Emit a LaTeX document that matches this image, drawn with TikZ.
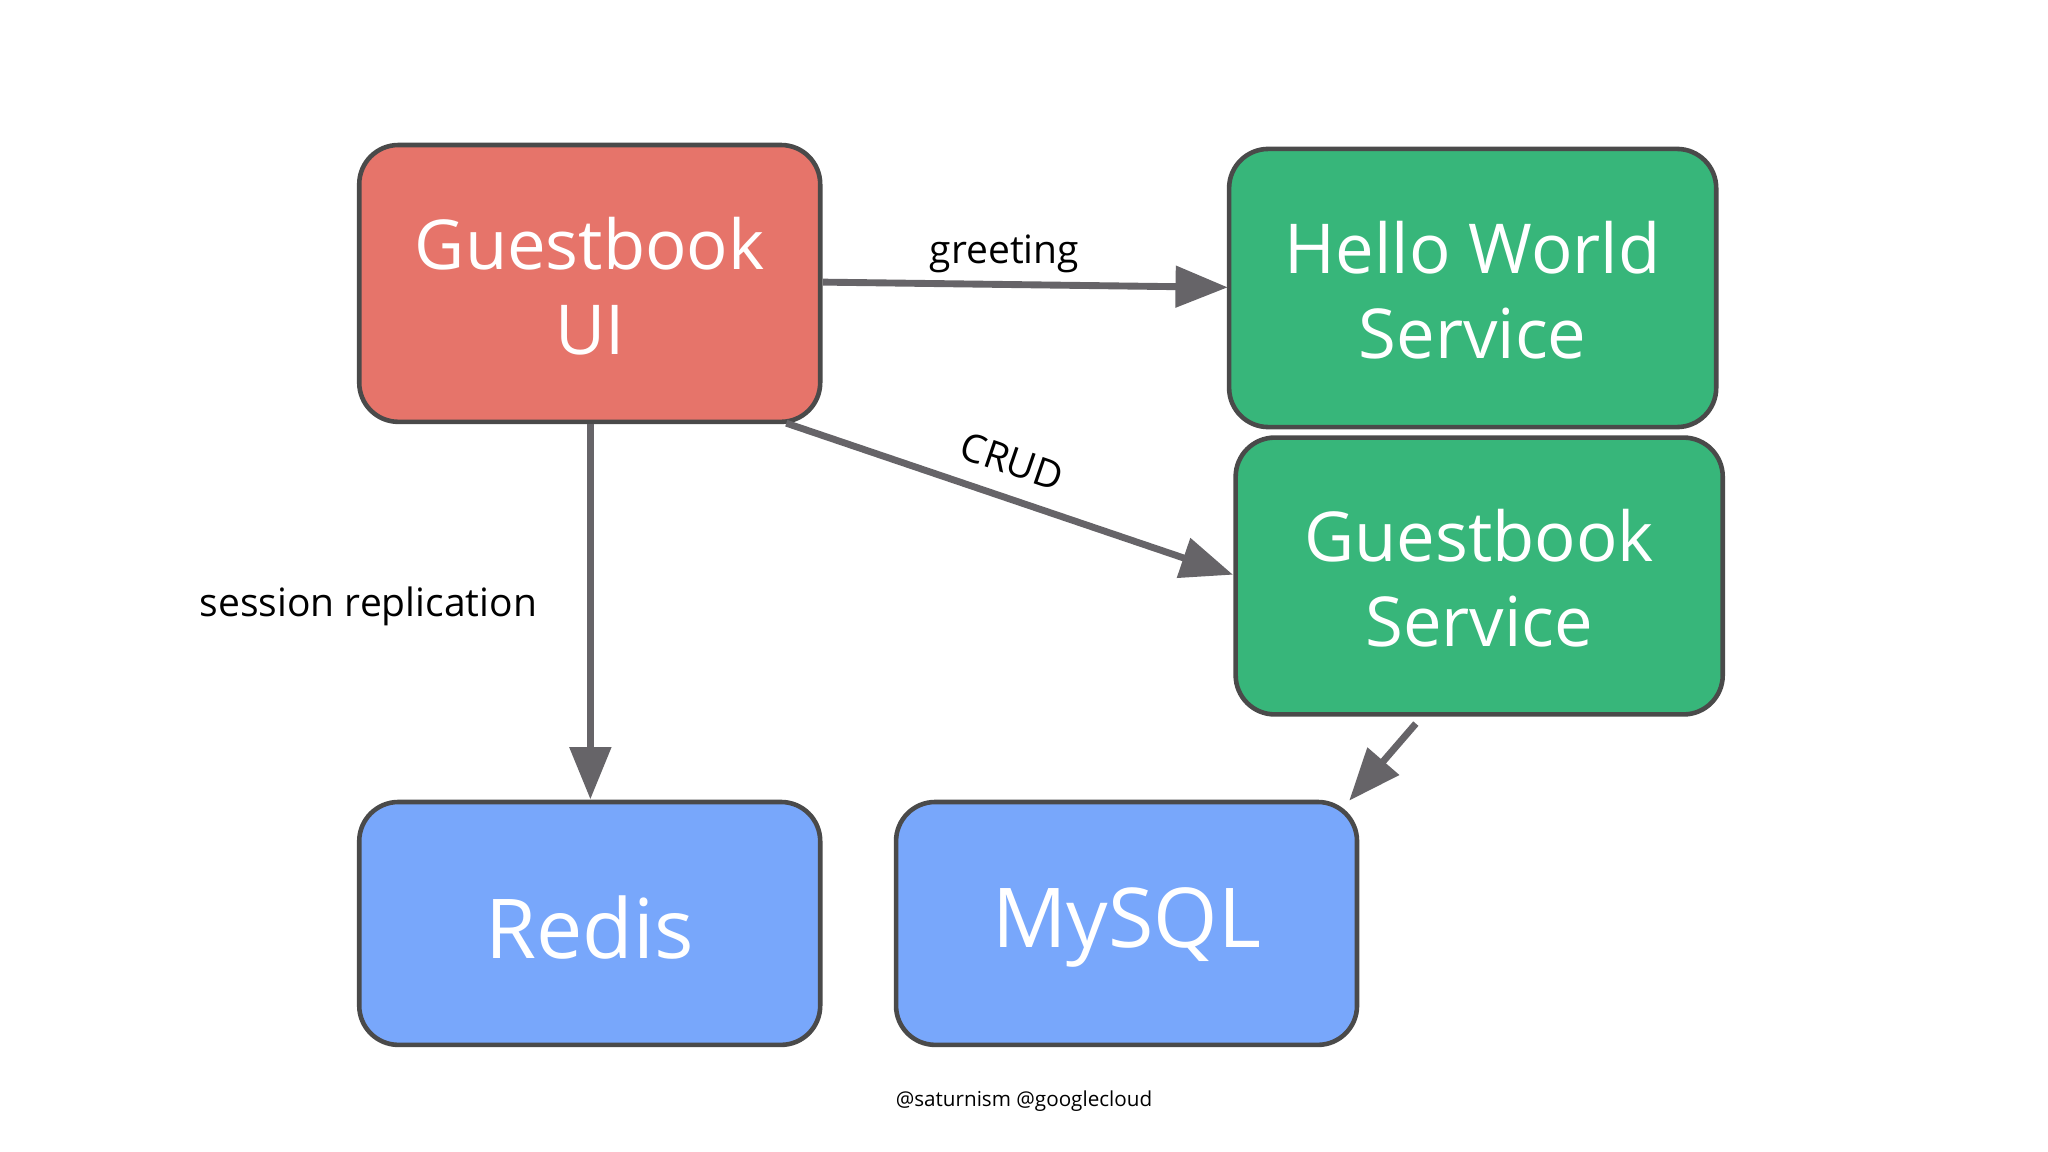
\documentclass[tikz,border=0pt]{standalone}
\usepackage{fontspec}
\setmainfont{Open Sans}
\usetikzlibrary{arrows.meta}
\definecolor{red1}{HTML}{E6746A}
\definecolor{green1}{HTML}{37B67A}
\definecolor{blue1}{HTML}{78A7FB}
\definecolor{edge1}{HTML}{4A4A4A}
\definecolor{arr}{HTML}{666468}
\begin{document}
\begin{tikzpicture}[x=0.02cm,y=-0.02cm,
  box/.style={draw=edge1,line width=2pt,rounded corners=0.6cm,text=white,font=\fontsize{30}{37}\selectfont,align=center,inner sep=0pt},
  conn/.style={draw=arr,line width=3pt,-{Triangle[length=0.8cm,width=0.62cm]}},
  lbl/.style={font=\fontsize{17}{20}\selectfont,text=black}]
\useasboundingbox (0,0) rectangle (1568,882);
\fill[white] (0,0) rectangle (1568,882);
\node[box,fill=red1,minimum width=7.06cm,minimum height=4.24cm] (ui) at (451.5,217) {};
\node[text=white,font=\fontsize{30}{37}\selectfont,align=center] (uit) at (451.5,219) {Guestbook\\UI};
\node[box,fill=green1,minimum width=7.46cm,minimum height=4.26cm] (hw) at (1127.5,220.5) {};
\node[text=white,font=\fontsize{30}{37}\selectfont,align=center] (hwt) at (1127.5,222) {Hello World\\Service};
\node[box,fill=green1,minimum width=7.46cm,minimum height=4.24cm] (gs) at (1132.5,441) {};
\node[text=white,font=\fontsize{30}{37}\selectfont,align=center] (gst) at (1132.5,443) {Guestbook\\Service};
\node[box,fill=blue1,minimum width=7.06cm,minimum height=3.72cm,font=\fontsize{36}{40}\selectfont] (redis) at (451.5,707) {};
\node[text=white,font=\fontsize{36}{40}\selectfont] (rt) at (451.5,710) {Redis};
\node[box,fill=blue1,minimum width=7.06cm,minimum height=3.72cm] (mysql) at (862.5,707) {};
\node[text=white,font=\fontsize{36}{40}\selectfont] (mt) at (862.5,710) {MySQL};
\coordinate (a1) at (630,216);
\coordinate (a2) at (940,220);
\draw[conn] (a1) -- (a2);
\node[lbl] (lg) at (769,194) {greeting};
\coordinate (b1) at (602,324);
\coordinate (b2) at (944,440);
\draw[conn] (b1) -- (b2);
\node[lbl,rotate=-19] (lc) at (775,353) {CRUD};
\coordinate (c1) at (452,325);
\coordinate (c2) at (452,612);
\draw[conn] (c1) -- (c2);
\node[lbl] (ls) at (282,464) {session replication};
\coordinate (d1) at (1084,554);
\coordinate (d2) at (1033,613);
\draw[conn] (d1) -- (d2);
\node[font=\fontsize{9}{11}\selectfont] (ft) at (784,843) {@saturnism @googlecloud};
\end{tikzpicture}
\end{document}
